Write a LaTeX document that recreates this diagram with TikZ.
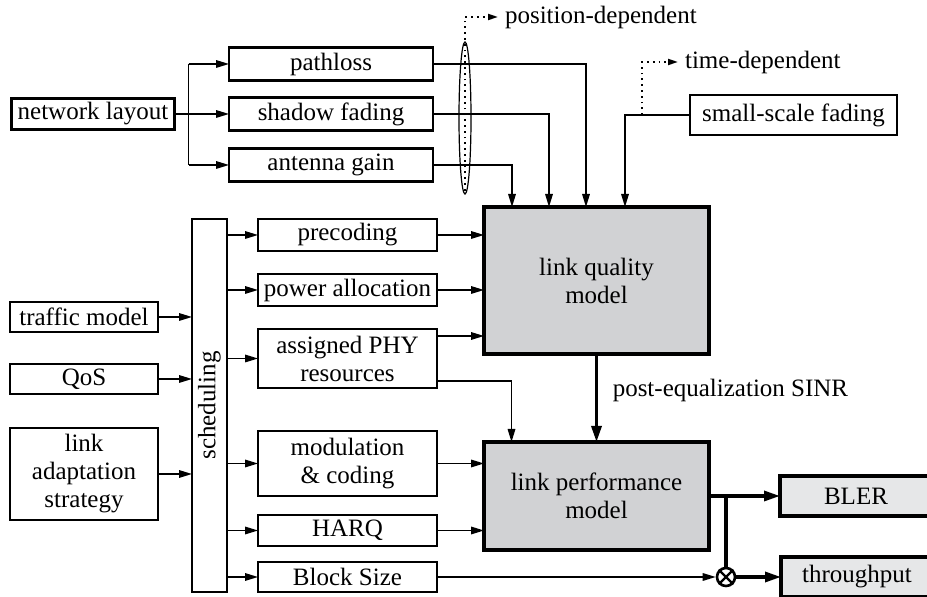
\documentclass[tikz,border=0pt]{standalone}
\usepackage{fontspec}
\setmainfont{Liberation Serif}
\usetikzlibrary{shapes.geometric, arrows.meta, positioning}
\definecolor{modelgray}{RGB}{209,210,212}
\definecolor{resultgray}{RGB}{230,231,232}

\begin{document}
\begin{tikzpicture}[x=0.5pt, y=-0.5pt,
  font=\fontsize{12.5}{14}\selectfont,
  box/.style={rectangle, draw, line width=1.1pt, align=center,
              inner sep=0pt, outer sep=0pt, minimum height=16pt},
  srcbox/.style={box, minimum width=102pt, minimum height=16.5pt},
  colbox/.style={box, minimum width=89.5pt},
  inbox/.style={box, minimum width=74pt, minimum height=15pt},
  model/.style={box, line width=2pt, fill=modelgray, minimum width=112.5pt},
  result/.style={box, line width=2pt, fill=resultgray,
                 minimum width=76pt, minimum height=20pt},
  arrow/.style={-{Triangle[length=6.5pt,width=3.8pt]}, line width=0.65pt},
  bigarrow/.style={-{Triangle[length=8pt,width=5pt]}, line width=1.6pt},
  dotarrow/.style={-{Triangle[length=5pt,width=3pt]}, line width=0.9pt, dotted}
]
  \useasboundingbox (0,0) rectangle (927,597);
  \clip (0,0) rectangle (927,597);

  \node[box, minimum width=81.5pt, minimum height=15.5pt] (layout) at (93,114) {network layout};
  \node[srcbox] (shadow) at (331,114) {shadow fading};
  \node[srcbox, above=8.5pt of shadow] (pathloss) {pathloss};
  \node[srcbox, below=9pt of shadow] (antenna) {antenna gain};
  \node[draw, ellipse, line width=0.6pt, inner sep=0pt,
        minimum width=6pt, minimum height=76pt] (group) at (465,118) {};
  \node[anchor=west] (posdep) at (498,17) {position-dependent};
  \node[box, minimum width=103.5pt, minimum height=20pt] (smallscale) at (793.5,115) {small-scale fading};
  \node[anchor=west] (timedep) at (678,62) {time-dependent};

  \node[model, minimum height=73.5pt] (lqm) at (596.5,280.5) {link quality\\model};
  \node[model, minimum height=54pt] (lpm) at (596.5,496) {link performance\\model};

  \node[box, minimum width=17.5pt, minimum height=186.5pt,
        label={[rotate=90]center:scheduling}] (sched) at (209.5,405.5) {};

  \node[inbox] (traffic) at (84,317) {traffic model};
  \node[inbox, below=16pt of traffic] (qos) {QoS};
  \node[inbox, below=17pt of qos, minimum height=46pt] (strategy) {link\\adaptation\\strategy};

  \node[colbox] (precoding) at (347.5,235) {precoding};
  \node[colbox, below=11.5pt of precoding] (power) {power allocation};
  \node[colbox, below=11.5pt of power, minimum height=29.5pt] (assigned) {assigned PHY\\resources};
  \node[colbox, below=21.5pt of assigned, minimum height=32.5pt] (modcod) {modulation\\\& coding};
  \node[colbox, below=9.5pt of modcod, minimum height=15.5pt] (harq) {HARQ};
  \node[colbox, below=8pt of harq, minimum height=15pt] (blocksize) {Block Size};

  \node[result] (bler) at (856,496) {BLER};
  \node[result] (throughput) at (857,577) {throughput};
  \coordinate (junction) at ([xshift=8.5pt]lpm.east);
  \node[circle, draw, line width=1.3pt, inner sep=0pt, minimum size=9pt] (mult) at (junction |- blocksize) {};

  \coordinate (split) at ([xshift=7pt]layout.east);
  \draw[arrow] (layout.east) -- (shadow.west);
  \draw[line width=0.65pt] (split |- pathloss) -- (split |- antenna);
  \draw[arrow] (split |- pathloss) -- (pathloss.west);
  \draw[arrow] (split |- antenna) -- (antenna.west);

  \draw[arrow] (pathloss.east) -| ([xshift=-5.25pt]lqm.north);
  \draw[arrow] (shadow.east) -| ([xshift=-23.75pt]lqm.north);
  \draw[arrow] (antenna.east) -| ([xshift=-42.25pt]lqm.north);
  \draw[arrow] (smallscale.west) -| ([xshift=14.25pt]lqm.north);
  \draw[dotarrow] ([yshift=2pt]group.south) |- (posdep.west);
  \draw[dotarrow] ([xshift=-24pt]smallscale.west) |- (timedep.west);

  \draw[arrow] (traffic.east) -- (traffic.east -| sched.west);
  \draw[arrow] (qos.east) -- (qos.east -| sched.west);
  \draw[arrow] (strategy.east) -- (strategy.east -| sched.west);

  \foreach \n in {precoding, power, assigned, modcod, harq, blocksize}
    \draw[arrow] (sched.east |- \n) -- (\n.west);

  \draw[arrow] (precoding.east) -- (precoding.east -| lqm.west);
  \draw[arrow] (power.east) -- (power.east -| lqm.west);
  \draw[arrow] ([yshift=-3.5pt]assigned.north east) -- ([yshift=-3.5pt]assigned.north east -| lqm.west);
  \draw[arrow] ([yshift=3.5pt]assigned.south east) -| ([xshift=-42.5pt]lpm.north);
  \draw[arrow] (modcod.east) -- (modcod.east -| lpm.west);
  \draw[arrow] (harq.east) -- (harq.east -| lpm.west);

  \draw[bigarrow] (lqm.south) -- (lpm.north)
    node[pos=0.42, right, xshift=4pt] (sinr) {post-equalization SINR};

  \draw[bigarrow] (lpm.east) -- (lpm.east -| bler.west);
  \draw[line width=1.6pt] (junction) -- (mult.north);
  \draw[line width=1.1pt] (mult.north west) -- (mult.south east);
  \draw[line width=1.1pt] (mult.north east) -- (mult.south west);
  \draw[arrow] (blocksize.east) -- (mult.west);
  \draw[bigarrow] (mult.east) -- (mult.east -| throughput.west);
\end{tikzpicture}
\end{document}
